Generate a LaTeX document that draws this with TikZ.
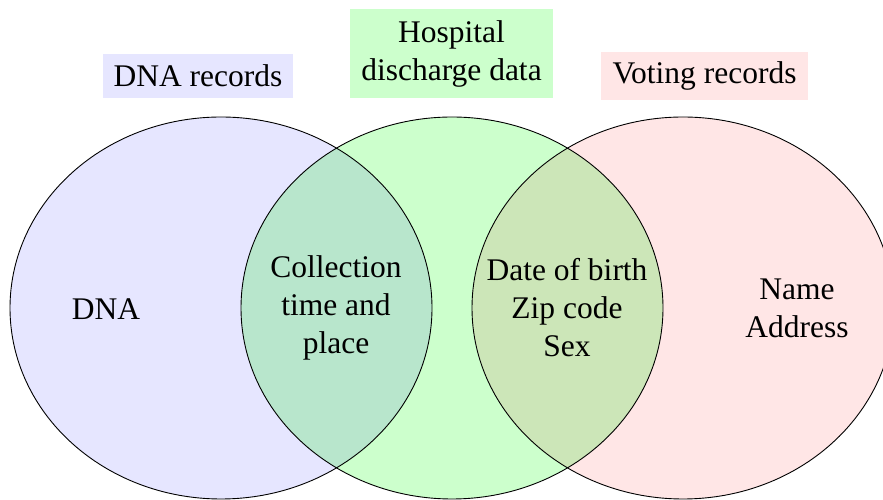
\documentclass[tikz,border=0pt]{standalone}
\usepackage{fontspec}
\setmainfont{Liberation Serif}

% set colours and the colours of their pairwise overlaps (multiplied)
\definecolor{dnafill}{RGB}{230,230,255}
\definecolor{hospfill}{RGB}{204,255,204}
\definecolor{votefill}{RGB}{255,230,230}
\definecolor{dnahosp}{RGB}{184,230,204}
\definecolor{hospvote}{RGB}{204,230,184}

\tikzset{
  lbl/.style={font=\fontsize{31.5pt}{38pt}\selectfont, align=center, inner sep=0pt},
  titlebox/.style={lbl, inner sep=10pt},
  setline/.style={draw=black, line width=0.9pt},
}

\begin{document}
\begin{tikzpicture}[x=1pt,y=1pt]
\useasboundingbox (0,0) rectangle (883,500);

% the three sets
\def\setA{(221,192) ellipse [x radius=211pt, y radius=191pt]}
\def\setB{(452,192) ellipse [x radius=211pt, y radius=191pt]}
\def\setC{(683,192) ellipse [x radius=211pt, y radius=191pt]}

\begin{scope}
  \clip (0,0) rectangle (883,500);
  \fill[dnafill] \setA;
  \fill[hospfill] \setB;
  \fill[votefill] \setC;
  \begin{scope}
    \clip \setA;
    \fill[dnahosp] \setB;
  \end{scope}
  \begin{scope}
    \clip \setC;
    \fill[hospvote] \setB;
  \end{scope}
  \draw[setline] \setA;
  \draw[setline] \setB;
  \draw[setline] \setC;
\end{scope}

% titles of the data sources
\node[titlebox, fill=dnafill, minimum width=190pt, minimum height=44pt] (tdna) at (198,424) {DNA records};
\node[titlebox, fill=hospfill, minimum width=203pt, minimum height=89pt] (thosp) at (451.5,446.5) {Hospital\\discharge data};
\node[titlebox, fill=votefill, minimum width=207pt, minimum height=44pt] (tvote) at (704.5,424) {Voting records};

% contents of each region
\node[lbl] (dna) at (106,190.4) {DNA};
\node[lbl] (collect) at (336,192) {Collection\\time and\\place};
\node[lbl] (quasi) at (567,192) {Date of birth\\Zip code\\Sex};
\node[lbl] (ident) at (797,191.5) {Name\\Address};
\end{tikzpicture}
\end{document}
